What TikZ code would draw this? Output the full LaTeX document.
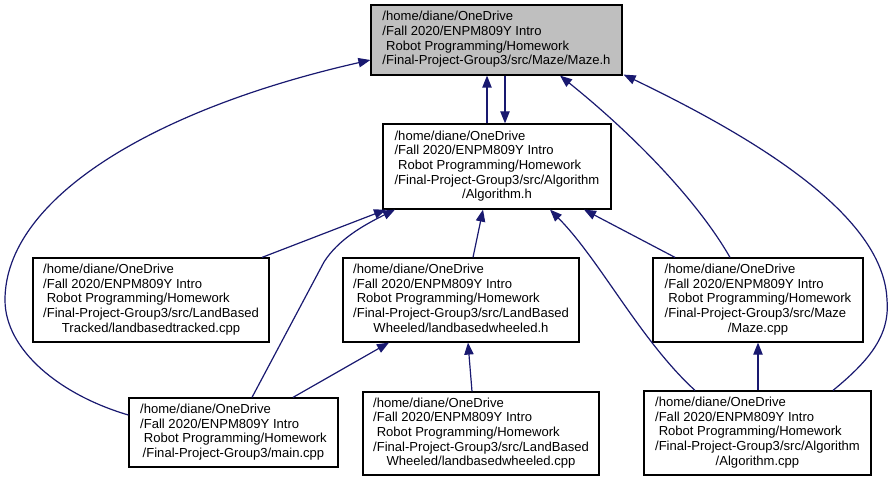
\documentclass[tikz,border=0pt]{standalone}
\usepackage{fontspec}
\setmainfont{Liberation Sans}
\usetikzlibrary{arrows.meta,calc}
\definecolor{edgeblue}{HTML}{191970}
\definecolor{grayfill}{HTML}{BFBFBF}
\newcommand\fivelbl[5]{\begin{tabular}{@{}l@{}}#1\\#2\\#3\\#4\\\multicolumn{1}{@{}c@{}}{#5}\end{tabular}}
\newcommand\fourlbl[4]{\begin{tabular}{@{}l@{}}#1\\#2\\#3\\\multicolumn{1}{@{}c@{}}{#4}\end{tabular}}
\tikzset{
  box/.style={draw=black, line width=0.9pt, fill=white, inner sep=0pt, align=center,
    font=\fontsize{9.8}{11}\selectfont},
  bx/.style 2 args={minimum width=#1*0.75pt, minimum height=#2*0.75pt},
  dep/.style={draw=edgeblue, line width=0.9pt, -{Triangle[length=9pt,width=7pt]}},
}
\begin{document}
\begin{tikzpicture}[x=0.75pt,y=-0.75pt]
\useasboundingbox (0,0) rectangle (893,481);
\node[box, fill=grayfill, bx={251}{70}] (mazeh) at (496.5,40)
  {\fourlbl{/home/diane/OneDrive}{/Fall 2020/ENPM809Y Intro}{\ Robot Programming/Homework}{/Final-Project-Group3/src/Maze/Maze.h}};
\node[box, bx={228}{85}] (algh) at (497,166.5)
  {\fivelbl{/home/diane/OneDrive}{/Fall 2020/ENPM809Y Intro}{\ Robot Programming/Homework}{/Final-Project-Group3/src/Algorithm}{/Algorithm.h}};
\node[box, bx={236}{84}] (tracked) at (151,300)
  {\fivelbl{/home/diane/OneDrive}{/Fall 2020/ENPM809Y Intro}{\ Robot Programming/Homework}{/Final-Project-Group3/src/LandBased}{Tracked/landbasedtracked.cpp}};
\node[box, bx={236}{84}] (wheeledh) at (461,300)
  {\fivelbl{/home/diane/OneDrive}{/Fall 2020/ENPM809Y Intro}{\ Robot Programming/Homework}{/Final-Project-Group3/src/LandBased}{Wheeled/landbasedwheeled.h}};
\node[box, bx={210}{84}] (mazecpp) at (758,300)
  {\fivelbl{/home/diane/OneDrive}{/Fall 2020/ENPM809Y Intro}{\ Robot Programming/Homework}{/Final-Project-Group3/src/Maze}{/Maze.cpp}};
\node[box, bx={209}{69}] (maincpp) at (233.5,432.5)
  {\fourlbl{/home/diane/OneDrive}{/Fall 2020/ENPM809Y Intro}{\ Robot Programming/Homework}{/Final-Project-Group3/main.cpp}};
\node[box, bx={236}{83}] (wheeledcpp) at (481,433.5)
  {\fivelbl{/home/diane/OneDrive}{/Fall 2020/ENPM809Y Intro}{\ Robot Programming/Homework}{/Final-Project-Group3/src/LandBased}{Wheeled/landbasedwheeled.cpp}};
\node[box, bx={227}{84}] (algcpp) at (757.5,433)
  {\fivelbl{/home/diane/OneDrive}{/Fall 2020/ENPM809Y Intro}{\ Robot Programming/Homework}{/Final-Project-Group3/src/Algorithm}{/Algorithm.cpp}};
% edges
\draw[dep] ($(algh.north)+(-10,0)$) -- ($(mazeh.south)+(-9.5,0)$);
\draw[dep] ($(mazeh.south)+(8.5,0)$) -- ($(algh.north)+(8,0)$);
\draw[dep] ($(tracked.north)+(111,0)$) -- ($(algh.south)+(-111,0)$);
\draw[dep] ($(maincpp.north)+(18.5,0)$) -- (324,262) .. controls (338,240) and (362,226) .. ($(algh.south)+(-102,0)$);
\draw[dep] ($(maincpp.north)+(59.5,0)$) -- ($(wheeledh.south)+(-72,0)$);
\draw[dep] ($(wheeledh.north)+(12,0)$) -- ($(algh.south)+(-14,0)$);
\draw[dep] ($(wheeledcpp.north)+(-9,0)$) -- ($(wheeledh.south)+(7,0)$);
\draw[dep] ($(algcpp.north)+(-62.5,0)$) .. controls (640,340) and (600,260) .. ($(algh.south)+(53,0)$);
\draw[dep] ($(mazecpp.north)+(-83,0)$) -- ($(algh.south)+(87,0)$);
\draw[dep] ($(mazecpp.north)+(-28,0)$) .. controls (700,205) and (640,140) .. ($(mazeh.south)+(63.5,0)$);
\draw[dep] ($(algcpp.north)+(75.5,0)$) .. controls (870,360) and (890,335) .. (887,300) .. controls (884,220) and (770,145) .. ($(mazeh.south east)+(1,-1)$);
\draw[dep] ($(maincpp.west)+(0,-17.5)$) .. controls (60,395) and (5,350) .. (5,300) .. controls (5,200) and (150,110) .. ($(mazeh.west)+(0,20)$);
\draw[dep] ($(algcpp.north)+(0.5,0)$) -- (mazecpp.south);
\end{tikzpicture}
\end{document}
